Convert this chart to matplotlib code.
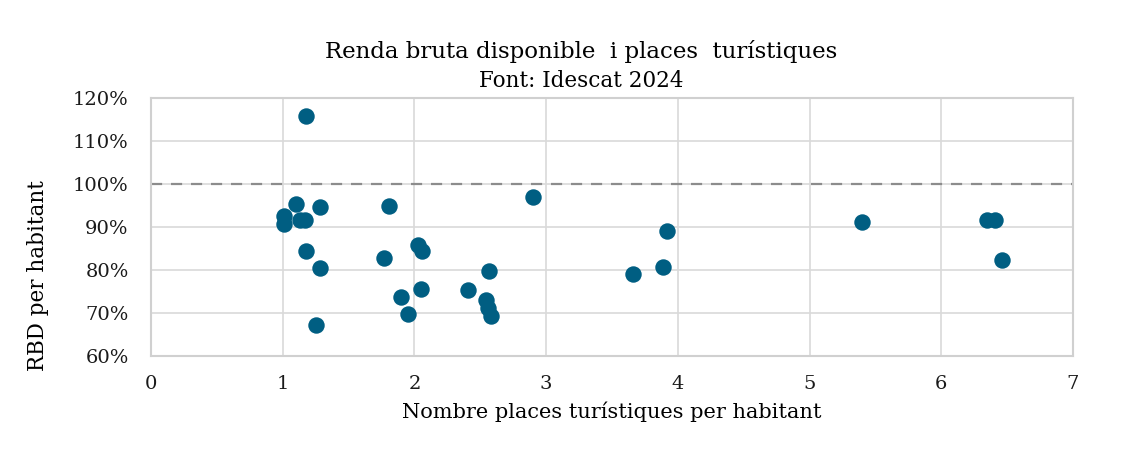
import matplotlib
matplotlib.use('Agg')
import matplotlib.pyplot as plt
from matplotlib.ticker import FuncFormatter

# places turistiques per habitant (x) i RBD per habitant en % (y)
places = [1.18, 1.10, 1.28, 1.01, 1.01, 1.13, 1.17, 1.18, 1.28, 1.25,
          1.81, 1.77, 2.03, 2.06, 1.90, 2.05, 1.95, 2.41, 2.57, 2.54,
          2.56, 2.58, 2.90, 3.66, 3.89, 3.92, 5.40, 6.35, 6.41, 6.46]
rbd = [115.9, 95.4, 94.6, 92.6, 90.6, 91.7, 91.7, 84.5, 80.5, 67.3,
       95.0, 82.9, 85.8, 84.5, 73.7, 75.7, 69.7, 75.3, 79.8, 73.1,
       71.2, 69.3, 96.9, 79.1, 80.6, 89.1, 91.2, 91.6, 91.6, 82.4]

xticks = [0, 1, 2, 3, 4, 5, 6, 7]
yticks = [60, 70, 80, 90, 100, 110, 120]

plt.rcParams['font.family'] = ['DejaVu Serif']

fig = plt.figure(figsize=(11.29, 4.51), dpi=100)
ax = fig.add_axes([0.1337, 0.2106, 0.8167, 0.5721])

ax.scatter(places, rbd, s=140, color='#005e82', zorder=3, linewidths=0)
ax.axhline(100, color='#8c8c8c', linestyle=(0, (5, 4)), linewidth=1.6, zorder=2)

ax.set_xlim(0, 7)
ax.set_ylim(60, 120)
ax.set_xticks(xticks)
ax.set_yticks(yticks)
ax.yaxis.set_major_formatter(FuncFormatter(lambda v, p: '%d%%' % v))
ax.grid(True, color='#d9d9d9', linewidth=1.2, zorder=0)
ax.set_axisbelow(True)
for s in ax.spines.values():
    s.set_color('#d0d0d0')
    s.set_linewidth(1.5)
ax.tick_params(length=0, labelsize=14, colors='#1a1a1a')
ax.tick_params(axis='x', pad=14)
ax.tick_params(axis='y', pad=16)

ax.set_xlabel('Nombre places turístiques per habitant', fontsize=15, labelpad=6)
fig.text(0.034, 0.39, 'RBD per habitant', rotation=90, fontsize=15.5,
         ha='center', va='center')

fig.text(0.5145, 0.885, 'Renda bruta disponible  i places  turístiques',
         fontsize=16.5, ha='center', va='center')
fig.text(0.5145, 0.82, 'Font: Idescat 2024', fontsize=15.5, ha='center', va='center')

fig.savefig('out.png', dpi=100)
